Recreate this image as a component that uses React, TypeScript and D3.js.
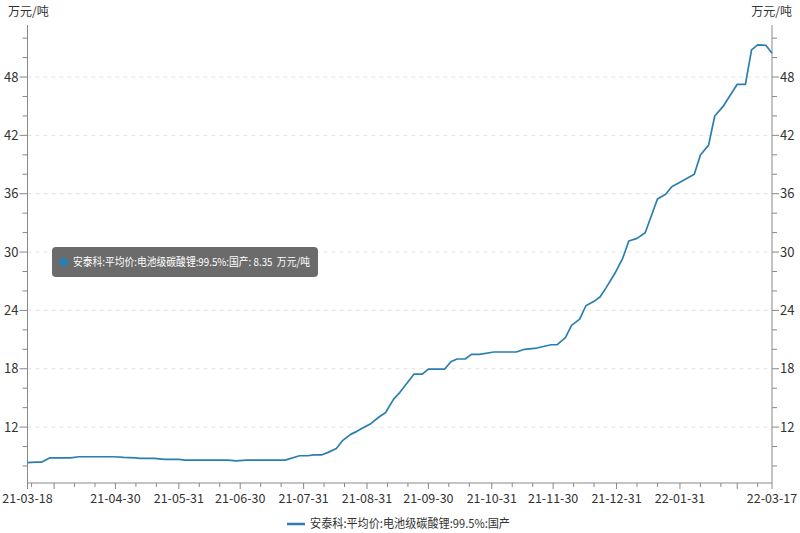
import React from "react";
import * as d3 from "d3";

const dates: string[] = [
  "2021-03-18","2021-03-22","2021-03-25","2021-03-29","2021-04-08","2021-04-12","2021-04-29",
  "2021-05-04","2021-05-10","2021-05-12","2021-05-19","2021-05-24","2021-05-31","2021-06-03",
  "2021-06-24","2021-06-28","2021-07-03","2021-07-22","2021-07-29","2021-08-02","2021-08-05",
  "2021-08-09","2021-08-12","2021-08-16","2021-08-19","2021-08-23","2021-08-26","2021-08-30",
  "2021-09-02","2021-09-06","2021-09-09","2021-09-13","2021-09-16","2021-09-23","2021-09-27",
  "2021-09-30","2021-10-08","2021-10-11","2021-10-14","2021-10-18","2021-10-21","2021-10-25",
  "2021-11-01","2021-11-12","2021-11-16","2021-11-22","2021-11-29","2021-12-02","2021-12-06",
  "2021-12-09","2021-12-13","2021-12-16","2021-12-20","2021-12-23","2021-12-26","2021-12-30",
  "2022-01-03","2022-01-06","2022-01-10","2022-01-14","2022-01-20","2022-01-24","2022-01-27",
  "2022-01-31","2022-02-07","2022-02-10","2022-02-14","2022-02-17","2022-02-21","2022-02-28",
  "2022-03-04","2022-03-07","2022-03-10","2022-03-14","2022-03-17",
];

const prices: number[] = [
  8.35, 8.4, 8.4, 8.84, 8.84, 8.95, 8.95,
  8.88, 8.84, 8.78, 8.78, 8.67, 8.67, 8.6,
  8.6, 8.53, 8.6, 8.6, 9.05, 9.05, 9.15,
  9.15, 9.4, 9.8, 10.6, 11.25, 11.56, 12.03,
  12.38, 13.06, 13.47, 14.87, 15.55, 17.45, 17.45,
  17.97, 17.97, 18.72, 19.0, 19.0, 19.48, 19.48,
  19.72, 19.72, 20.0, 20.13, 20.47, 20.47, 21.19,
  22.46, 23.11, 24.48, 24.93, 25.4, 26.37, 27.74,
  29.36, 31.14, 31.41, 31.99, 35.46, 35.94, 36.72,
  37.18, 38.0, 39.98, 41.0, 43.99, 44.95, 47.25,
  47.25, 50.8, 51.3, 51.27, 50.45,
];

const yTicks: number[] = [12, 18, 24, 30, 36, 42, 48];
const yMinorTicks: number[] = [8, 10, 14, 16, 20, 22, 26, 28, 32, 34, 38, 40, 44, 46, 50, 52];
const xLabelDates: string[] = [
  "2021-03-18","2021-04-30","2021-05-31","2021-06-30","2021-07-31","2021-08-31",
  "2021-09-30","2021-10-31","2021-11-30","2021-12-31","2022-01-31","2022-03-17",
];
const seriesName = "安泰科:平均价:电池级碳酸锂:99.5%:国产";
const unit = "万元/吨";
const yDomain: [number, number] = [6.25, 53.35];

const W = 800, H = 533;
const L = 27.5, R = 772, T = 25, B = 483;
const FONT = "'Microsoft YaHei', 'Noto Sans CJK SC', 'Noto Sans', sans-serif";
const LINE = "#2a7fb0";
const TXT = "#333";
const AX = "#888";

export default function App() {
  const parse = d3.timeParse("%Y-%m-%d");
  const data = dates.map((d, i) => ({ date: parse(d) as Date, v: prices[i] }));
  const x = d3.scaleTime().domain([parse(dates[0]) as Date, parse(dates[dates.length - 1]) as Date]).range([L, R]);
  const y = d3.scaleLinear().domain(yDomain).range([B, T]);
  const line = d3.line<{ date: Date; v: number }>().x(d => x(d.date)).y(d => y(d.v));
  const fmt = d3.timeFormat("%y-%m-%d");

  const [d0, d1] = x.domain();
  const xTicks: { d: Date; major: boolean }[] = [];
  d3.timeMonths(d3.timeMonth.floor(d0), d1).forEach(m => {
    const y0 = m.getFullYear(), mo = m.getMonth();
    const end = new Date(y0, mo + 1, 0);
    [new Date(y0, mo, 10), new Date(y0, mo, 20)].forEach(dd => {
      if (dd >= d0 && dd <= d1) xTicks.push({ d: dd, major: false });
    });
    if (end >= d0 && end <= d1) xTicks.push({ d: end, major: true });
  });
  xTicks.push({ d: d0, major: true });
  xTicks.push({ d: d1, major: true });

  return (
    <svg width={W} height={H} style={{ position: "absolute", left: 0, top: 0, background: "#fff" }} fontFamily={FONT}>
      {yTicks.map(t => (
        <line key={"g" + t} x1={L} x2={R} y1={y(t)} y2={y(t)} stroke="#e3e3e3" strokeDasharray="4,4" strokeWidth={1} />
      ))}
      <line x1={L} x2={L} y1={T} y2={B} stroke={AX} strokeWidth={1} />
      {yTicks.map(t => (
        <g key={"l" + t}>
          <line x1={L - 8} x2={L} y1={y(t)} y2={y(t)} stroke={AX} />
          <text x={L - 9} y={y(t)} dy="0.35em" textAnchor="end" fontSize={13} fill={TXT}>{t}</text>
        </g>
      ))}
      {yMinorTicks.map(t => (
        <line key={"lm" + t} x1={L - 5} x2={L} y1={y(t)} y2={y(t)} stroke={AX} />
      ))}
      <line x1={R} x2={R} y1={T} y2={B} stroke={AX} strokeWidth={1} />
      {yTicks.map(t => (
        <g key={"r" + t}>
          <line x1={R} x2={R + 7} y1={y(t)} y2={y(t)} stroke={AX} />
          <text x={R + 8} y={y(t)} dy="0.35em" textAnchor="start" fontSize={13} fill={TXT}>{t}</text>
        </g>
      ))}
      {yMinorTicks.map(t => (
        <line key={"rm" + t} x1={R} x2={R + 5} y1={y(t)} y2={y(t)} stroke={AX} />
      ))}
      <text x={8} y={12} dy="0.35em" fontSize={12} fill={TXT}>{unit}</text>
      <text x={792} y={12} dy="0.35em" textAnchor="end" fontSize={12} fill={TXT}>{unit}</text>
      <line x1={L} x2={R} y1={B} y2={B} stroke={AX} strokeWidth={1} />
      {xTicks.map((t, i) => (
        <line key={"xt" + i} x1={x(t.d)} x2={x(t.d)} y1={B} y2={B + (t.major ? 6 : 4)} stroke={AX} />
      ))}
      {xLabelDates.map(d => {
        const dd = parse(d) as Date;
        return (
          <text key={"xl" + d} x={x(dd)} y={499} dy="0.35em" textAnchor="middle" fontSize={12.5} fill={TXT}>{fmt(dd)}</text>
        );
      })}
      <path d={line(data) || ""} fill="none" stroke={LINE} strokeWidth={1.7} strokeLinejoin="round" />
      <line x1={287} x2={305} y1={524} y2={524} stroke={LINE} strokeWidth={2.5} />
      <text x={310} y={524} dy="0.35em" fontSize={12} fill={TXT} textLength={200} lengthAdjust="spacingAndGlyphs">{seriesName}</text>
      <rect x={52} y={247} width={266} height={30} rx={4} ry={4} fill="#6b6b6b" />
      <circle cx={63.5} cy={262} r={4.5} fill={LINE} />
      <text x={73} y={262} dy="0.35em" fontSize={11} fill="#fff" textLength={237} lengthAdjust="spacingAndGlyphs" style={{ whiteSpace: "pre" }}>{seriesName + ": " + prices[0].toFixed(2) + "\u00a0\u00a0" + unit}</text>
    </svg>
  );
}
